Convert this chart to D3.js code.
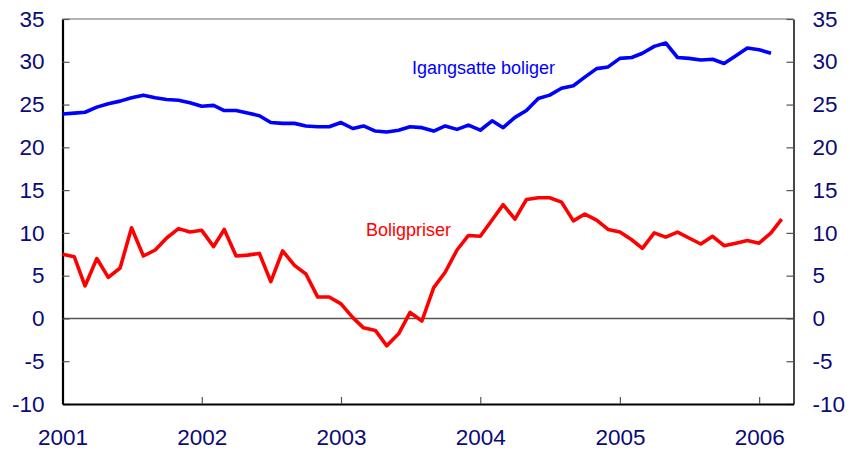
<!DOCTYPE html>
<html>
<head>
<meta charset="utf-8">
<script src="https://cdn.jsdelivr.net/npm/d3@7"></script>
<style>
  body { margin: 0; background: #fff; }
  text { font-family: "Liberation Sans", Arial, sans-serif; }
</style>
</head>
<body>
<svg id="chart" width="850" height="452"></svg>
<script>
// månedlige tall, jan 2001 ->
const startYear = 2001;
const igangsatte = [
  23.9, 24.0, 24.1, 24.7, 25.1, 25.4, 25.8, 26.1, 25.8, 25.6, 25.5, 25.2,
  24.8, 24.9, 24.3, 24.3, 24.0, 23.7, 22.9, 22.8, 22.8, 22.5, 22.4, 22.4,
  22.9, 22.2, 22.5, 21.9, 21.8, 22.0, 22.4, 22.3, 21.9, 22.5, 22.1, 22.6,
  22.0, 23.1, 22.3, 23.5, 24.3, 25.7, 26.1, 26.9, 27.2, 28.2, 29.2, 29.4,
  30.4, 30.5, 31.0, 31.8, 32.2, 30.5, 30.4, 30.2, 30.3, 29.8, 30.7, 31.6,
  31.4, 31.0
];
const boligpriser = [
  7.5, 7.2, 3.8, 7.0, 4.8, 5.9, 10.6, 7.3, 8.0, 9.4, 10.5, 10.1,
  10.3, 8.4, 10.4, 7.3, 7.4, 7.6, 4.3, 7.9, 6.2, 5.2, 2.5, 2.5,
  1.7, 0.1, -1.1, -1.4, -3.2, -1.8, 0.7, -0.3, 3.6, 5.4, 8.0, 9.7,
  9.6, 11.5, 13.3, 11.6, 13.9, 14.1, 14.1, 13.6, 11.4, 12.2, 11.5, 10.4,
  10.1, 9.2, 8.2, 10.0, 9.5, 10.1, 9.4, 8.7, 9.6, 8.5, 8.8, 9.1,
  8.8, 10.0, 11.6
];
const yTicks = [-10, -5, 0, 5, 10, 15, 20, 25, 30, 35];
const yearTicks = [2001, 2002, 2003, 2004, 2005, 2006];

const svg = d3.select("#chart");
const W = 850, H = 452;
const m = { top: 19, right: 56.5, bottom: 48, left: 62.5 };
const navy = "#0a0a78";

const month = i => new Date(startYear, i, 1);

const x = d3.scaleTime()
  .domain([new Date(2001, 0, 1), new Date(2006, 3, 1)])
  .range([m.left, W - m.right]);

const y = d3.scaleLinear()
  .domain([-10, 35])
  .range([H - m.bottom, m.top]);

// ramme topp
svg.append("line")
  .attr("x1", m.left).attr("x2", W - m.right)
  .attr("y1", m.top).attr("y2", m.top)
  .attr("stroke", "#666").attr("stroke-width", 1.2);

// nullinje
svg.append("line")
  .attr("x1", m.left).attr("x2", W - m.right)
  .attr("y1", y(0)).attr("y2", y(0))
  .attr("stroke", "#555").attr("stroke-width", 1.5);

function styleAxis(g, lineW, lineC) {
  g.select(".domain").attr("stroke", lineC).attr("stroke-width", lineW);
  g.selectAll(".tick line").attr("stroke", "#555").attr("stroke-width", 1.2);
  g.selectAll(".tick text")
    .attr("fill", navy)
    .style("font-size", "22.5px");
}

const plain = d => String(d); // bindestrek, ikke minustegn

// venstre akse
const yl = svg.append("g")
  .attr("transform", `translate(${m.left},0)`)
  .call(d3.axisLeft(y).tickValues(yTicks).tickFormat(plain)
    .tickSizeInner(-7).tickSizeOuter(0).tickPadding(18));
styleAxis(yl, 2.2, "#000");

// høyre akse
const yr = svg.append("g")
  .attr("transform", `translate(${W - m.right},0)`)
  .call(d3.axisRight(y).tickValues(yTicks).tickFormat(plain)
    .tickSizeInner(-7).tickSizeOuter(0).tickPadding(19));
styleAxis(yr, 1.8, "#333");

// x-akse
const xa = svg.append("g")
  .attr("transform", `translate(0,${H - m.bottom})`)
  .call(d3.axisBottom(x)
    .tickValues(yearTicks.map(yr => new Date(yr, 0, 1)))
    .tickFormat(d3.timeFormat("%Y"))
    .tickSizeInner(-7).tickSizeOuter(0).tickPadding(27));
styleAxis(xa, 2.2, "#000");
xa.selectAll(".tick text").attr("dy", "0.62em");
xa.select(".tick line").attr("opacity", 0);

const line = d3.line()
  .x((d, i) => x(month(i)))
  .y(d => y(d));

svg.append("path")
  .attr("fill", "none")
  .attr("stroke", "#0000ff")
  .attr("stroke-width", 3.6)
  .attr("stroke-linejoin", "round")
  .attr("d", line(igangsatte));

svg.append("path")
  .attr("fill", "none")
  .attr("stroke", "#ff0000")
  .attr("stroke-width", 3.6)
  .attr("stroke-linejoin", "round")
  .attr("d", line(boligpriser));

// serienavn
svg.append("text")
  .attr("x", 412).attr("y", 74)
  .attr("fill", "#0000ff")
  .style("font-size", "18px")
  .text("Igangsatte boliger");

svg.append("text")
  .attr("x", 366).attr("y", 236)
  .attr("fill", "#ff0000")
  .style("font-size", "18px")
  .text("Boligpriser");
</script>
</body>
</html>
